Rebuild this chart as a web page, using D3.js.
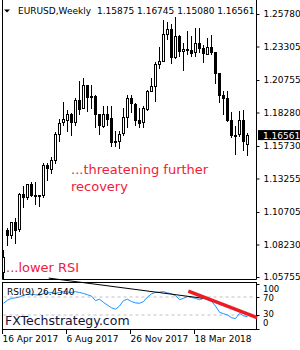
<!DOCTYPE html>
<html>
<head>
<meta charset="utf-8">
<script src="https://cdn.jsdelivr.net/npm/d3@7"></script>
<style>
  body { margin: 0; background: #fff; }
  #chart { width: 300px; height: 350px; }
  text { font-family: Tahoma, "DejaVu Sans", sans-serif; }
</style>
</head>
<body>
<div id="chart"></div>
<script>
// weekly EURUSD bars, 16 Apr 2017 .. 17 Jun 2018
var opens  = [1.0615,1.0935,1.0897,1.0995,1.0935,1.1205,1.1180,1.1282,1.1200,1.1198,1.1195,1.1425,1.1400,1.1470,1.1665,1.1750,1.1775,1.1820,1.1760,1.1925,1.1860,1.2035,1.1945,1.1950,1.1815,1.1730,1.1820,1.1785,1.1605,1.1610,1.1665,1.1790,1.1935,1.1895,1.1770,1.1750,1.1860,1.1995,1.2030,1.2200,1.2220,1.2425,1.2460,1.2250,1.2410,1.2295,1.2310,1.2305,1.2285,1.2355,1.2320,1.2280,1.2330,1.2290,1.2130,1.1960,1.1940,1.1770,1.1655,1.1660,1.1770,1.15875];
var highs  = [1.0780,1.0950,1.0995,1.1023,1.1212,1.1268,1.1285,1.1296,1.1296,1.1200,1.1445,1.1445,1.1490,1.1680,1.1777,1.1910,1.1845,1.1825,1.1940,1.2070,1.2092,1.2035,1.2035,1.1960,1.1790,1.1880,1.1880,1.1880,1.1690,1.1690,1.1860,1.1960,1.1960,1.1900,1.1860,1.1880,1.2000,1.2090,1.2215,1.2325,1.2535,1.2520,1.2500,1.2555,1.2420,1.2355,1.2445,1.2410,1.2475,1.2475,1.2345,1.2395,1.2415,1.2290,1.2125,1.1995,1.1995,1.1830,1.1725,1.1840,1.1850,1.16745];
var lows   = [1.0570,1.0820,1.0875,1.0838,1.0925,1.1110,1.1170,1.1196,1.1130,1.1119,1.1185,1.1312,1.1370,1.1440,1.1612,1.1730,1.1690,1.1660,1.1730,1.1820,1.1860,1.1838,1.1860,1.1718,1.1668,1.1720,1.1730,1.1575,1.1575,1.1555,1.1660,1.1720,1.1830,1.1730,1.1715,1.1720,1.1850,1.1995,1.1915,1.2165,1.2220,1.2390,1.2205,1.2240,1.2260,1.2155,1.2275,1.2255,1.2260,1.2285,1.2215,1.2280,1.2275,1.2055,1.1910,1.1820,1.1765,1.1645,1.1510,1.1650,1.1540,1.15080];
var closes = [1.0727,1.0897,1.0998,1.0932,1.1205,1.1180,1.1280,1.1196,1.1198,1.1195,1.1425,1.1400,1.1470,1.1665,1.1750,1.1775,1.1820,1.1760,1.1925,1.1860,1.2035,1.1945,1.1950,1.1815,1.1730,1.1820,1.1785,1.1605,1.1610,1.1665,1.1790,1.1935,1.1895,1.1770,1.1750,1.1860,1.1995,1.2030,1.2200,1.2220,1.2425,1.2460,1.2250,1.2410,1.2295,1.2310,1.2305,1.2285,1.2355,1.2320,1.2280,1.2330,1.2290,1.2130,1.1960,1.1940,1.1770,1.1655,1.1660,1.1770,1.1610,1.16561];

// RSI(9)
var rsi = [56,63,67,68,70,74,76,76,75,74,78,79,80,78,80,82,81,80,82,80,78,75,72,62,65,58,52,46,43,50,62,65,60,57,56,60,70,77,80,81,82,79,77,73,64,67,71,69,67,64,67,64,60,50,36,33,30,24,22,34,28,26.454];

var priceTicks = [1.25780,1.23305,1.20755,1.18280,1.15730,1.13255,1.10705,1.08230,1.05755];
var rsiTicks = [100,70,30,0];
var dateLabels = [{i:0, t:"16 Apr 2017"},{i:16, t:"6 Aug 2017"},{i:32, t:"26 Nov 2017"},{i:48, t:"18 Mar 2018"}];
var lastPrice = 1.16561;

// hand drawn lines on rsi window (bar index, rsi value)
var blackTrend = [{i:11.3, v:112},{i:50, v:67}];
var redTrend = [{i:46.2, v:83},{i:63.4, v:24}];

var width = 300, height = 350;
var left = 2.5, right = 256.5;

var svg = d3.select("#chart")
    .append("svg")
    .attr("width", width)
    .attr("height", height);

var bars = opens.map(function(o, i) {
    return {i: i, o: o, h: highs[i], l: lows[i], c: closes[i]};
});

var xScale = d3.scaleLinear()
    .domain([0, 61])
    .range([3.5, 247.5]);

var yScale = d3.scaleLinear()
    .domain([1.05755, 1.25780])
    .range([277, 14]);

var rScale = d3.scaleLinear()
    .domain([0, 100])
    .range([328.5, 283.5]);

// panel frames
svg.append("path")
    .attr("d", `M${left},0V279.5H${right}V0`)
    .attr("fill", "none")
    .attr("stroke", "#000");

svg.append("rect")
    .attr("x", left).attr("y", 282.5)
    .attr("width", right - left).attr("height", 47)
    .attr("fill", "none")
    .attr("stroke", "#000");

// price axis
var yAxis = svg.append("g")
    .attr("transform", `translate(${right},0)`)
    .call(d3.axisRight(yScale).tickValues(priceTicks).tickSize(3).tickPadding(4)
        .tickFormat(d3.format(".5f")));
yAxis.select(".domain").remove();
yAxis.selectAll("text").attr("font-size", 9).attr("fill", "#000").attr("font-family", "DejaVu Sans");

// candles
var candle = svg.append("g").selectAll("g")
    .data(bars)
    .join("g");

candle.append("line")
    .attr("x1", function(d) { return xScale(d.i); })
    .attr("x2", function(d) { return xScale(d.i); })
    .attr("y1", function(d) { return Math.round(yScale(d.h)); })
    .attr("y2", function(d) { return Math.round(yScale(d.l)) + 1; })
    .attr("stroke", "#000");

candle.append("rect")
    .attr("x", function(d) { return xScale(d.i) - 1; })
    .attr("width", 2)
    .attr("y", function(d) { return Math.round(yScale(Math.max(d.o, d.c))) + 0.5; })
    .attr("height", function(d) { return Math.max(1, Math.round(Math.abs(yScale(d.o) - yScale(d.c)))); })
    .attr("fill", function(d) { return d.c >= d.o ? "#fff" : "#000"; })
    .attr("stroke", "#000");

// last price box
svg.append("rect")
    .attr("x", 258).attr("y", yScale(lastPrice) - 5)
    .attr("width", 42).attr("height", 10)
    .attr("fill", "#000");
svg.append("text")
    .attr("x", 263).attr("y", yScale(lastPrice) + 3.5)
    .attr("font-size", 9).attr("fill", "#fff").attr("font-family", "DejaVu Sans")
    .text(d3.format(".5f")(lastPrice));

// header
svg.append("path").attr("d", "M4,9.5H10L7,12.5Z").attr("fill", "#000");
svg.append("text").attr("x", 18).attr("y", 14).attr("font-size", 9)
    .text("EURUSD,Weekly");
svg.append("text").attr("x", 97).attr("y", 14).attr("font-size", 9)
    .text([opens[61], highs[61], lows[61], closes[61]].map(d3.format(".5f")).join(" "));

// rsi window
svg.append("g").selectAll("line")
    .data([70, 30])
    .join("line")
    .attr("x1", left + 1).attr("x2", right - 1)
    .attr("y1", function(d) { return rScale(d); })
    .attr("y2", function(d) { return rScale(d); })
    .attr("stroke", "#c0c0c0")
    .attr("stroke-dasharray", "3,3");

svg.append("path")
    .datum(rsi)
    .attr("fill", "none")
    .attr("stroke", "#1e90ff")
    .attr("d", d3.line().x(function(d, i) { return xScale(i); }).y(function(d) { return rScale(d); }));

svg.append("line")
    .attr("x1", xScale(blackTrend[0].i)).attr("y1", rScale(blackTrend[0].v))
    .attr("x2", xScale(blackTrend[1].i)).attr("y2", rScale(blackTrend[1].v))
    .attr("stroke", "#000");

svg.append("line")
    .attr("x1", xScale(redTrend[0].i)).attr("y1", rScale(redTrend[0].v))
    .attr("x2", xScale(redTrend[1].i)).attr("y2", rScale(redTrend[1].v))
    .attr("stroke", "#ed1c24")
    .attr("stroke-width", 3.5);

svg.append("text").attr("x", 7).attr("y", 295).attr("font-size", 9)
    .text("RSI(9) 26.4540");

var rsiLabelY = {100: 291.5, 70: 300.5, 30: 317, 0: 326};
svg.append("g").selectAll("text")
    .data(rsiTicks)
    .join("text")
    .attr("x", 263)
    .attr("y", function(d) { return rsiLabelY[d]; })
    .attr("font-size", 8.5).attr("font-family", "DejaVu Sans")
    .text(function(d) { return d; });
svg.append("g").selectAll("line")
    .data(rsiTicks)
    .join("line")
    .attr("x1", right).attr("x2", right + 3)
    .attr("y1", function(d) { return Math.round(rScale(d)) + 0.5; })
    .attr("y2", function(d) { return Math.round(rScale(d)) + 0.5; })
    .attr("stroke", "#000");

// date axis
var dates = svg.append("g").selectAll("g")
    .data(dateLabels)
    .join("g")
    .attr("transform", function(d) { return `translate(${Math.floor(xScale(d.i)) - 0.5},0)`; });
dates.append("line").attr("y1", 330).attr("y2", 334).attr("stroke", "#000");
dates.append("text").attr("x", 0).attr("y", 342)
    .attr("font-size", 9).attr("font-family", "DejaVu Sans")
    .text(function(d) { return d.t; });

// annotations
svg.append("text").attr("x", 71).attr("y", 174)
    .attr("font-family", "Lato").attr("font-size", 13).attr("fill", "#f0203a")
    .text("...threatening further");
svg.append("text").attr("x", 71).attr("y", 191)
    .attr("font-family", "Lato").attr("font-size", 13).attr("fill", "#f0203a")
    .text("recovery");
svg.append("text").attr("x", 6).attr("y", 271.5)
    .attr("font-family", "Lato").attr("font-size", 13).attr("fill", "#f0203a")
    .text("...lower RSI");

svg.append("text").attr("x", 5).attr("y", 325)
    .attr("font-family", "Liberation Sans").attr("font-size", 12.5).attr("fill", "#12123a")
    .text("FXTechstrategy.com");
</script>
</body>
</html>
